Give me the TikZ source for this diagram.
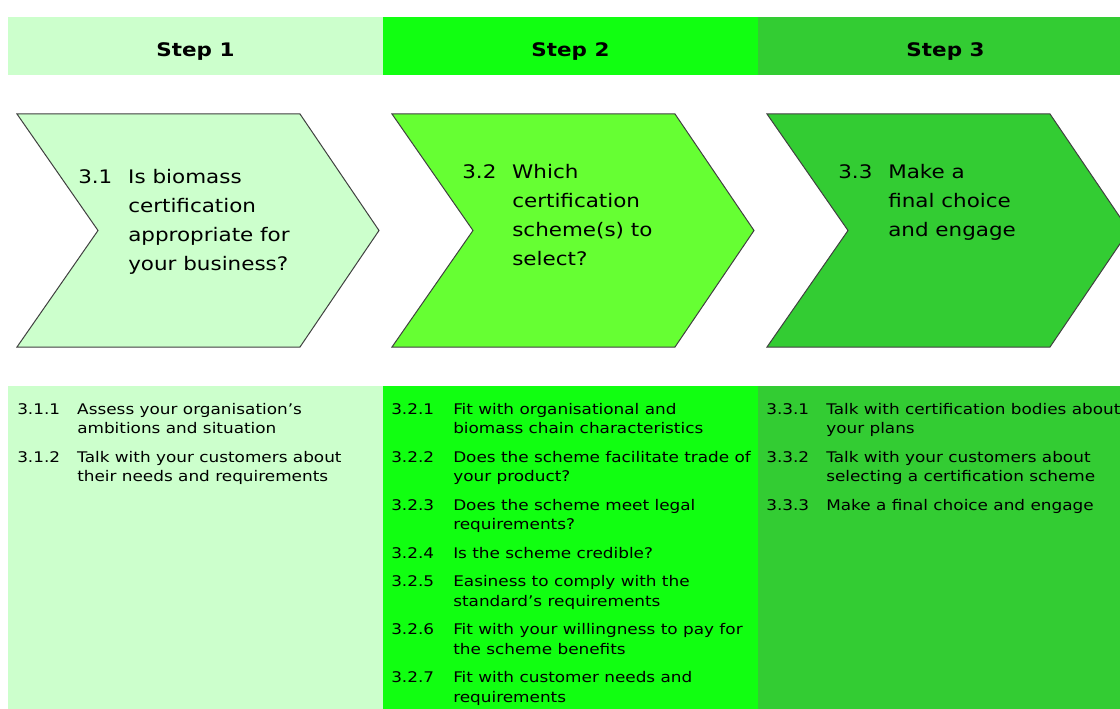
\documentclass[tikz,border=0pt]{standalone}
\usepackage{fontspec}
\setmainfont{DejaVu Sans}[FakeStretch=1.15]
\usepackage{array}
\definecolor{paleg}{HTML}{CCFFCC}
\definecolor{brightg}{HTML}{11FF11}
\definecolor{limeg}{HTML}{66FF33}
\definecolor{darkg}{HTML}{33CC33}
\tikzset{
  steptitle/.style={anchor=base, inner sep=0pt, font=\fontsize{14}{16}\selectfont\bfseries},
  question/.style={anchor=base west, inner sep=0pt, font=\fontsize{14}{21.75}\selectfont},
  tasklist/.style={anchor=base west, inner sep=0pt, font=\fontsize{11}{14.625}\selectfont},
  chevron/.style={draw=black!75, line width=0.75pt}
}
\begin{document}
\begin{tikzpicture}[x=0.75pt,y=-0.75pt]
\useasboundingbox (0,0) rectangle (1120,709);
\clip (0,0) rectangle (1120,709);

\foreach \x/\col/\name in {8/paleg/1,383/brightg/2,758/darkg/3}
{
    \fill[\col] (\x,17) rectangle +(375,58);
    \node[steptitle] (head\name) at (\x+187.5,57) {Step \name};
    \fill[\col] (\x,386) rectangle +(375,330);
}
\foreach \x/\col in {17/paleg,392/limeg,767/darkg}
{
    \draw[chevron,fill=\col] (\x,114) -- ++(283,0) -- ++(79,116.5) -- ++(-79,116.5) -- ++(-283,0) -- ++(81,-116.5) -- cycle;
}

\node[question] (q1) at (78,184) {\begin{tabular}[t]{@{}p{37.5pt}@{}l@{}}
3.1 & Is biomass\\ & certification\\ & appropriate for\\ & your business?\end{tabular}};
\node[question] (q2) at (462,179) {\begin{tabular}[t]{@{}p{37.5pt}@{}l@{}}
3.2 & Which\\ & certification\\ & scheme(s) to\\ & select?\end{tabular}};
\node[question] (q3) at (838,179) {\begin{tabular}[t]{@{}p{37.5pt}@{}l@{}}
3.3 & Make a\\ & final choice\\ & and engage\end{tabular}};

\node[tasklist] (list1) at (17,414) {\begin{tabular}[t]{@{}p{45pt}@{}l@{}}
3.1.1 & Assess your organisation’s\\
 & ambitions and situation\\[6.75pt]
3.1.2 & Talk with your customers about\\
 & their needs and requirements
\end{tabular}};
\node[tasklist] (list2) at (391,414) {\begin{tabular}[t]{@{}p{46.5pt}@{}l@{}}
3.2.1 & Fit with organisational and\\
 & biomass chain characteristics\\[6.75pt]
3.2.2 & Does the scheme facilitate trade of\\
 & your product?\\[6.75pt]
3.2.3 & Does the scheme meet legal\\
 & requirements?\\[6.75pt]
3.2.4 & Is the scheme credible?\\[6.75pt]
3.2.5 & Easiness to comply with the\\
 & standard’s requirements\\[6.75pt]
3.2.6 & Fit with your willingness to pay for\\
 & the scheme benefits\\[6.75pt]
3.2.7 & Fit with customer needs and\\
 & requirements
\end{tabular}};
\node[tasklist] (list3) at (766,414) {\begin{tabular}[t]{@{}p{45pt}@{}l@{}}
3.3.1 & Talk with certification bodies about\\
 & your plans\\[6.75pt]
3.3.2 & Talk with your customers about\\
 & selecting a certification scheme\\[6.75pt]
3.3.3 & Make a final choice and engage
\end{tabular}};
\end{tikzpicture}
\end{document}
